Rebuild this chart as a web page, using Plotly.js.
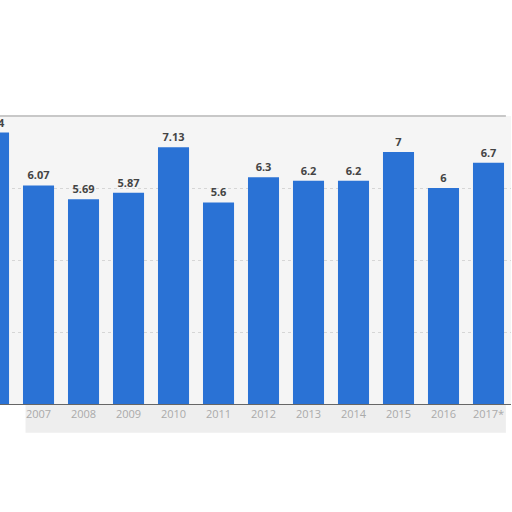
<!DOCTYPE html>
<html>
<head>
<meta charset="utf-8">
<script src="https://cdn.plot.ly/plotly-3.0.1.min.js"></script>
<style>
  html, body { margin: 0; padding: 0; background: #fff; }
  #chart { width: 512px; height: 512px; }
</style>
</head>
<body>
<div id="chart"></div>
<script>
var years = ['2006', '2007', '2008', '2009', '2010', '2011', '2012', '2013', '2014', '2015', '2016', '2017*'];
var values = [7.54, 6.07, 5.69, 5.87, 7.13, 5.6, 6.3, 6.2, 6.2, 7, 6, 6.7];
var valueLabels = ['7.54', '6.07', '5.69', '5.87', '7.13', '5.6', '6.3', '6.2', '6.2', '7', '6', '6.7'];

var data = [{
  type: 'bar',
  x: years,
  y: values,
  text: valueLabels,
  texttemplate: '<b>%{text}</b>',
  textposition: 'outside',
  cliponaxis: true,
  textfont: { family: 'Open Sans, sans-serif', size: 11, color: '#444' },
  marker: { color: '#2a72d5' },
  hoverinfo: 'none'
}];

var layout = {
  width: 512,
  height: 512,
  margin: { l: 0, r: 1, t: 116, b: 108, pad: 0 },
  paper_bgcolor: '#ffffff',
  plot_bgcolor: '#f5f5f5',
  bargap: 0.31,
  showlegend: false,
  xaxis: {
    type: 'category',
    range: [0.144, 11.5],
    showgrid: false,
    showline: true,
    linecolor: '#666',
    linewidth: 1,
    ticks: '',
    tickfont: { family: 'Open Sans, sans-serif', size: 11, color: '#aaa' },
    fixedrange: true
  },
  yaxis: {
    range: [0, 8],
    dtick: 2,
    showticklabels: false,
    showgrid: true,
    gridcolor: '#d6d6d6',
    griddash: 'dot',
    zeroline: false,
    fixedrange: true
  },
  shapes: [{
    type: 'line', xref: 'paper', yref: 'paper',
    x0: 0, x1: 0.99, y0: 1, y1: 1,
    line: { color: '#c8c8c8', width: 2 }
  }, {
    type: 'rect', xref: 'paper', yref: 'paper', layer: 'below',
    x0: 0.05, x1: 0.99, y0: -0.1, y1: 0,
    fillcolor: '#eeeeee', line: { width: 0 }
  }]
};

Plotly.newPlot('chart', data, layout, { displayModeBar: false, staticPlot: true });
</script>
</body>
</html>
